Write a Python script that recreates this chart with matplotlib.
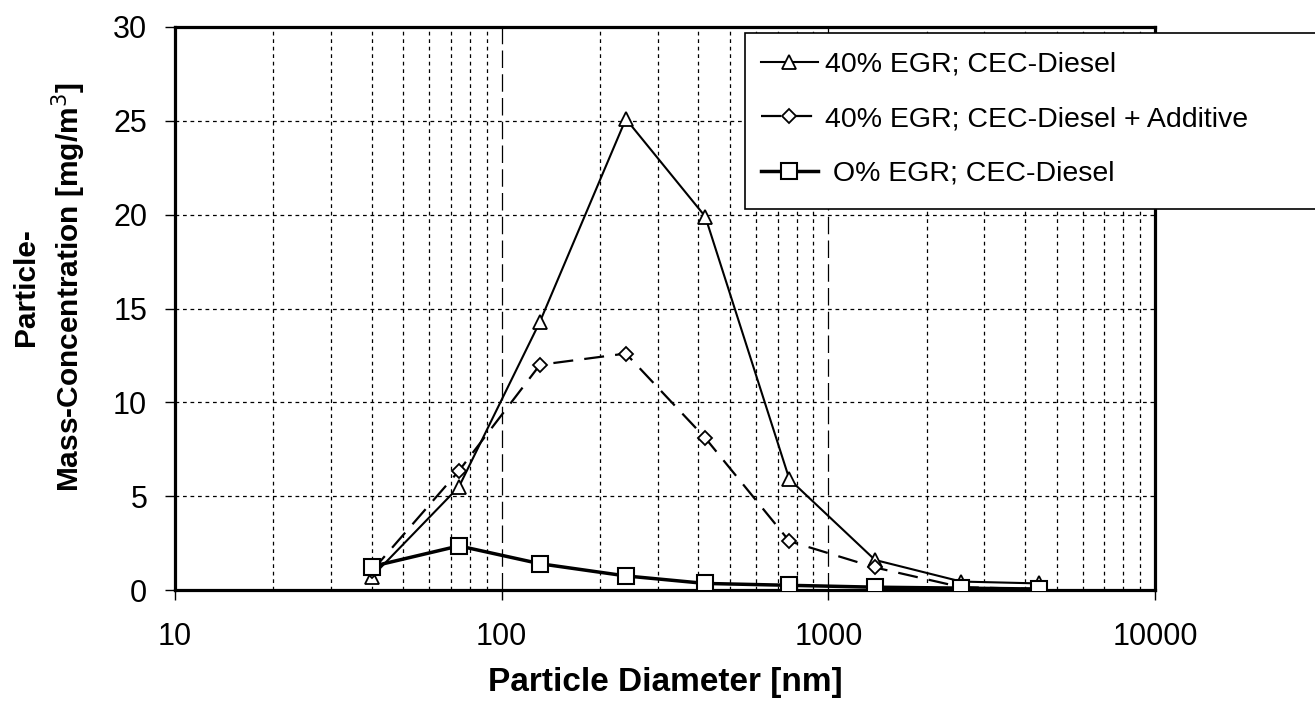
import matplotlib.pyplot as plt
from matplotlib.patches import Rectangle
from matplotlib.ticker import LogLocator, NullFormatter, FixedLocator

plt.rcParams['font.family'] = ['Liberation Sans', 'DejaVu Sans']

# particle diameter [nm]
diameter = [40, 74, 131, 240, 420, 760, 1390, 2550, 4420]
# mass concentration [mg/m3]
egr40 = [0.7, 5.5, 14.3, 25.1, 19.9, 5.9, 1.6, 0.45, 0.35]
egr40_add = [1.0, 6.35, 12.0, 12.6, 8.1, 2.6, 1.2, 0.15, 0.05]
egr0 = [1.25, 2.35, 1.4, 0.75, 0.35, 0.25, 0.15, 0.1, 0.05]

labels = ["40% EGR; CEC-Diesel", "40% EGR; CEC-Diesel + Additive", " O% EGR; CEC-Diesel"]

fig = plt.figure(figsize=(13.15, 7.07), dpi=100)
ax = fig.add_axes([175/1315, 1-590/707, 980/1315, 563/707])

ax.plot(diameter, egr40, color="black", lw=1.5, marker="^", ms=10.5,
        mfc="white", mec="black", mew=1.3, label=labels[0], zorder=3)
ax.plot(diameter, egr40_add, color="black", lw=1.6, ls=(0, (9, 5)), marker="D", ms=7.5,
        mfc="white", mec="black", mew=1.3, label=labels[1], zorder=4)
ax.plot(diameter, egr0, color="black", lw=2.5, marker="s", ms=11,
        mfc="white", mec="black", mew=1.5, label=labels[2], zorder=5)

ax.set_xscale("log")
ax.set_xlim(10, 10000)
ax.set_ylim(0, 30)
ax.set_yticks([0, 5, 10, 15, 20, 25, 30])
ax.xaxis.set_major_locator(FixedLocator([10, 100, 1000, 10000]))
ax.set_xticklabels(["10", "100", "1000", "10000"])
ax.xaxis.set_minor_locator(LogLocator(base=10, subs=range(2, 10)))
ax.xaxis.set_minor_formatter(NullFormatter())

# grid
for v in [5, 10, 15, 20, 25]:
    ax.axhline(v, color="black", lw=0.9, ls=(0, (3, 3)), zorder=1)
for dec in [10, 100, 1000]:
    for m in range(2, 10):
        ax.axvline(dec*m, color="black", lw=0.9, ls=(0, (3, 3)), zorder=1)
for v in [100, 1000]:
    ax.axvline(v, color="black", lw=0.9, ls=(0, (14, 5)), zorder=1)

for s in ax.spines.values():
    s.set_linewidth(2.3)
ax.tick_params(axis="both", which="major", direction="out", length=7, width=1,
               labelsize=22)
ax.tick_params(axis="y", which="major", pad=13)
ax.tick_params(axis="x", which="major", pad=16)
ax.tick_params(axis="x", which="minor", length=0)

ax.set_xlabel("Particle Diameter [nm]", fontsize=24, fontweight="bold")
ax.xaxis.set_label_coords(0.5, (590-682)/563)
ax.xaxis.label.set_verticalalignment("center")
ax.set_ylabel("Particle-\nMass-Concentration [mg/m$^3$]", fontsize=21.5,
              fontweight="bold", linespacing=1.33)
ax.yaxis.set_label_coords((50-175)/980, (590-287)/563)
ax.yaxis.label.set_verticalalignment("center")

# legend box, sitting over the top right corner
fig.patches.append(Rectangle((745/1315, 1-209/707), 600/1315, 176/707,
                             transform=fig.transFigure, fc="white", ec="black",
                             lw=1.2, zorder=10))
leg = fig.legend(loc="upper left", bbox_to_anchor=(735/1315, 1-26/707),
                 frameon=False, fontsize=20.5, handlelength=2.0, handletextpad=0.25,
                 labelspacing=1.0)
leg.set_zorder(11)

fig.savefig("out.png", dpi=100)
